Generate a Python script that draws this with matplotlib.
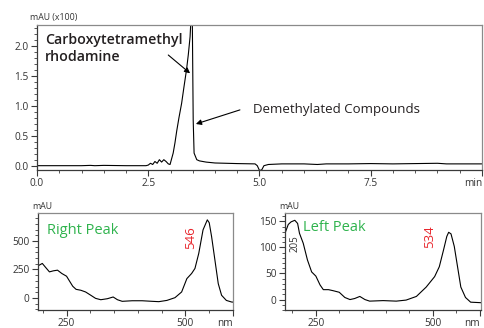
import matplotlib
matplotlib.use('Agg')
import matplotlib.pyplot as plt
from matplotlib.ticker import MultipleLocator

plt.rcParams['font.family'] = ['Open Sans', 'DejaVu Sans']

# Chromatogram (time in min, absorbance in mAU x100)
chrom_time = [0.0, 0.5, 1.0, 1.2, 1.3, 1.5, 2.0, 2.45, 2.5, 2.55, 2.6, 2.65, 2.7, 2.75,
              2.8, 2.85, 2.9, 2.95, 2.99, 3.06, 3.1, 3.14, 3.19, 3.25, 3.3, 3.36,
              3.4, 3.44, 3.46, 3.49, 3.5, 3.51, 3.53, 3.59, 3.65, 3.8, 4.0, 4.5,
              4.9, 4.95, 5.0, 5.05, 5.1, 5.2, 5.5, 6.0, 6.3, 6.5, 7.0, 7.5, 8.0, 9.0,
              9.2, 9.5, 10.0]
chrom_abs = [0.0, 0.0, 0.0, 0.005, 0.0, 0.005, 0.0, 0.0, 0.01, 0.04, 0.02, 0.07, 0.04, 0.1,
             0.06, 0.1, 0.07, 0.03, 0.02, 0.21, 0.38, 0.58, 0.8, 1.04, 1.3, 1.6,
             1.85, 2.15, 2.45, 2.45, 1.6, 0.76, 0.21, 0.1, 0.08, 0.06, 0.045, 0.035,
             0.03, 0.0, -0.08, -0.07, 0.0, 0.02, 0.03, 0.03, 0.02, 0.03, 0.03, 0.035, 0.03, 0.04,
             0.03, 0.03, 0.03]

# UV-Vis spectrum of the right peak (nm, mAU)
right_nm = [190, 199, 206, 214, 222, 231, 240, 250, 256, 263, 270, 280, 290, 301, 311,
            322, 336, 348, 357, 367, 388, 409, 430, 444, 461, 478, 492, 503, 513, 520,
            528, 537, 546, 550, 555, 562, 569, 576, 586, 597, 600]
right_mau = [282, 303, 268, 229, 238, 244, 215, 191, 150, 103, 76, 68, 53, 24, -3,
             -15, -6, 9, -15, -29, -24, -24, -29, -32, -21, 3, 53, 170, 215, 259,
             391, 597, 685, 660, 538, 332, 126, 24, -21, -35, -36]
right_max = 546

# UV-Vis spectrum of the left peak (nm, mAU)
left_nm = [184, 191, 197, 205, 211, 215, 223, 232, 241, 250, 259, 266, 277, 287, 300,
           312, 323, 333, 344, 355, 365, 394, 422, 443, 465, 486, 504, 514, 523, 530,
           534, 539, 546, 553, 560, 570, 581, 603]
left_mau = [127, 144, 149, 152, 146, 127, 108, 76, 53, 45, 28, 19, 19, 17, 14,
            4, 0, 2, 6, 0, -3, -2, -3, -1, 6, 24, 44, 63, 95, 121,
            129, 126, 102, 63, 24, 4, -5, -6]
left_uv_max = 205
left_vis_max = 534

green = '#2fb34d'
red = '#e8262d'
dark = '#231f20'


def style_axes(ax):
    for side in ['top', 'right']:
        ax.spines[side].set_color('#8a8a8a')
    for side in ['left', 'bottom']:
        ax.spines[side].set_color('#3a3a3a')
    for sp in ax.spines.values():
        sp.set_linewidth(0.9)
    ax.tick_params(which='major', length=4, width=0.8, color='#3a3a3a',
                   labelsize=7.3, labelcolor='#333333', pad=2)
    ax.tick_params(which='minor', length=2, width=0.6, color='#3a3a3a')


fig = plt.figure(figsize=(4.85, 3.28), dpi=100)

# Chromatogram
ax = fig.add_axes([0.0763, 0.4817, 0.9175, 0.442])
ax.plot(chrom_time, chrom_abs, color='black', lw=0.8)
ax.set_xlim(0, 10)
ax.set_ylim(-0.072, 2.345)
ax.set_xticks([0, 2.5, 5.0, 7.5, 10])
ax.set_xticklabels(['0.0', '2.5', '5.0', '7.5', 'min'])
ax.get_xticklabels()[-1].set_ha('right')
ax.set_yticks([0, 0.5, 1.0, 1.5, 2.0])
ax.set_yticklabels(['0.0', '0.5', '1.0', '1.5', '2.0'])
ax.xaxis.set_minor_locator(MultipleLocator(0.5))
ax.yaxis.set_minor_locator(MultipleLocator(0.1))
style_axes(ax)
ax.text(-0.016, 1.02, 'mAU (x100)', transform=ax.transAxes, fontsize=6.3,
        color='#333333', ha='left', va='bottom')

arrow = dict(arrowstyle='-|>', color='black', lw=0.8, mutation_scale=8,
             shrinkA=0, shrinkB=0)
ax.text(0.18, 2.21, 'Carboxytetramethyl\nrhodamine', fontsize=10.2,
        fontweight='semibold', color=dark, ha='left', va='top', linespacing=1.25)
ax.annotate('', xy=(3.44, 1.54), xytext=(2.95, 1.845), arrowprops=arrow)
ax.annotate('', xy=(3.57, 0.695), xytext=(4.56, 0.93), arrowprops=arrow)
ax.text(4.85, 0.93, 'Demethylated Compounds', fontsize=9.5, color=dark,
        ha='left', va='center')

# Right peak spectrum
ax2 = fig.add_axes([0.0784, 0.0549, 0.402, 0.2957])
ax2.plot(right_nm, right_mau, color='black', lw=0.8)
ax2.set_xlim(190, 600)
ax2.set_ylim(-105, 745)
ax2.set_xticks([250, 500, 600])
ax2.set_xticklabels(['250', '500', 'nm'])
ax2.get_xticklabels()[-1].set_ha('right')
ax2.set_yticks([0, 250, 500])
ax2.xaxis.set_minor_locator(MultipleLocator(50))
ax2.yaxis.set_minor_locator(MultipleLocator(50))
style_axes(ax2)
ax2.text(-0.03, 1.02, 'mAU', transform=ax2.transAxes, fontsize=6.3,
         color='#333333', ha='left', va='bottom')
ax2.text(0.045, 0.82, 'Right Peak', transform=ax2.transAxes, fontsize=10.5,
         color=green, ha='left', va='center')
ax2.annotate(str(right_max), xy=(right_max, right_mau[right_nm.index(right_max)]),
             xytext=(-12, -13), textcoords='offset points', rotation=90,
             fontsize=9.5, color=red, ha='center', va='center')

# Left peak spectrum
ax3 = fig.add_axes([0.5876, 0.0549, 0.404, 0.2957])
ax3.plot(left_nm, left_mau, color='black', lw=0.8)
ax3.set_xlim(184, 603)
ax3.set_ylim(-20, 166)
ax3.set_xticks([250, 500, 600])
ax3.set_xticklabels(['250', '500', 'nm'])
ax3.get_xticklabels()[-1].set_ha('right')
ax3.set_yticks([0, 50, 100, 150])
ax3.xaxis.set_minor_locator(MultipleLocator(50))
ax3.yaxis.set_minor_locator(MultipleLocator(10))
style_axes(ax3)
ax3.text(-0.03, 1.02, 'mAU', transform=ax3.transAxes, fontsize=6.3,
         color='#333333', ha='left', va='bottom')
ax3.text(0.092, 0.85, 'Left Peak', transform=ax3.transAxes, fontsize=10.5,
         color=green, ha='left', va='center')
ax3.annotate(str(left_uv_max), xy=(left_uv_max, left_mau[left_nm.index(left_uv_max)]),
             xytext=(0, -17), textcoords='offset points', rotation=90,
             fontsize=7, color='#333333', ha='center', va='center')
ax3.annotate(str(left_vis_max), xy=(left_vis_max, left_mau[left_nm.index(left_vis_max)]),
             xytext=(-14, -3), textcoords='offset points', rotation=90,
             fontsize=9.5, color=red, ha='center', va='center')

fig.savefig('out.png', dpi=100)
